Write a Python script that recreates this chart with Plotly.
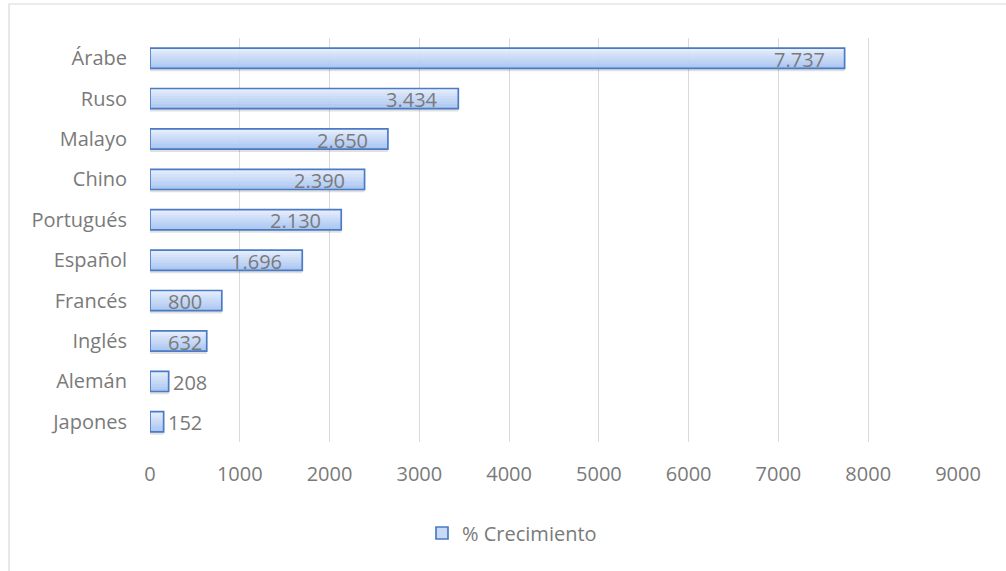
import plotly.graph_objects as go

# Growth by language (%)
idiomas = ["Árabe", "Ruso", "Malayo", "Chino", "Portugués",
           "Español", "Francés", "Inglés", "Alemán", "Japones"]
crecimiento = [7737, 3434, 2650, 2390, 2130, 1696, 800, 632, 208, 152]
serie = "% Crecimiento"
x_ticks = [0, 1000, 2000, 3000, 4000, 5000, 6000, 7000, 8000, 9000]

GRAY_TXT = "#7a7a7a"
GRID = "#d9d9d9"
EDGE = "#4a7bc4"
FONT = "Open Sans"
FSIZE = 20

L, R, T, B = 150, 48, 38, 129
W, H = 1006, 571
plot_w = W - L - R
plot_h = H - T - B
x_max = x_ticks[-1]

BAR_W = 0.5
TOP = -BAR_W / 2

fig = go.Figure()

# soft drop shadow under each bar
fig.add_trace(go.Bar(
    x=crecimiento, y=idiomas, orientation="h",
    width=BAR_W, offset=TOP + 0.07,
    marker=dict(color="rgba(0,0,0,0.12)", line=dict(width=0)),
    hoverinfo="skip", showlegend=False,
))

# vertical gradient fill built from thin horizontal strips
top_rgb = (228, 237, 253)
bot_rgb = (170, 198, 243)
n_strips = 8
strip = BAR_W / n_strips
for i in range(n_strips):
    t = i / (n_strips - 1)
    c = tuple(round(a + (b - a) * t) for a, b in zip(top_rgb, bot_rgb))
    fig.add_trace(go.Bar(
        x=crecimiento, y=idiomas, orientation="h",
        width=strip * 1.05, offset=TOP + i * strip,
        marker=dict(color="rgb(%d,%d,%d)" % c, line=dict(width=0)),
        hoverinfo="skip", showlegend=False,
    ))

# outline (and legend entry)
fig.add_trace(go.Bar(
    x=crecimiento, y=idiomas, orientation="h", name=serie,
    width=BAR_W, offset=TOP,
    marker=dict(color="rgba(200,218,248,0)", line=dict(color=EDGE, width=1.7)),
    showlegend=False,
))
# legend swatch
fig.add_trace(go.Bar(
    x=[None], y=[None], orientation="h", name=serie,
    marker=dict(color="#c8daf8", line=dict(color=EDGE, width=1.7)),
    showlegend=True,
))


def fmt(v):
    return f"{v:,}".replace(",", ".")


# value labels: inside the bar end when they fit, otherwise just past it
annotations = []
for name, v in zip(idiomas, crecimiento):
    txt = fmt(v)
    bar_px = v * plot_w / x_max
    text_px = len(txt) * 0.56 * FSIZE
    if bar_px >= text_px + 36:
        anchor, shift = "right", -18
    elif bar_px >= text_px + 4:
        anchor, shift = "right", -3
    else:
        anchor, shift = "left", 2
    annotations.append(dict(
        x=v, y=name, xref="x", yref="y", text=txt, showarrow=False,
        xanchor=anchor, xshift=shift, yanchor="middle", yshift=-1,
        font=dict(family=FONT, size=FSIZE, color=GRAY_TXT),
    ))

fig.update_layout(
    width=W, height=H,
    margin=dict(l=L, r=R, t=T, b=B),
    paper_bgcolor="white", plot_bgcolor="white",
    barmode="overlay",
    font=dict(family=FONT, size=FSIZE, color=GRAY_TXT),
    annotations=annotations,
    showlegend=True,
    legend=dict(
        orientation="h", x=(512 - L) / plot_w, xanchor="center",
        y=-(533 - T - plot_h) / plot_h, yanchor="middle",
        font=dict(family=FONT, size=FSIZE, color=GRAY_TXT),
        itemwidth=30, bgcolor="rgba(0,0,0,0)",
    ),
    shapes=[dict(
        type="rect", xref="paper", yref="paper",
        x0=(9 - L) / plot_w, x1=(W + 5 - L) / plot_w,
        y0=-(H + 5 - T - plot_h) / plot_h, y1=(T + plot_h - 4) / plot_h,
        line=dict(color=GRID, width=1.2), fillcolor="rgba(0,0,0,0)",
        layer="below",
    )],
)

fig.update_xaxes(
    range=[0, x_max], tickvals=x_ticks, ticktext=[str(t) for t in x_ticks],
    showgrid=True, gridcolor=GRID, gridwidth=1.3,
    zeroline=False, showline=False, ticks="",
    ticklabelstandoff=18,
    tickfont=dict(family=FONT, size=FSIZE, color=GRAY_TXT),
)
fig.update_yaxes(
    autorange="reversed", showgrid=False, zeroline=False, showline=False,
    ticks="", ticklabelstandoff=22,
    tickfont=dict(family=FONT, size=FSIZE, color=GRAY_TXT),
)

fig.write_html("out.html")
